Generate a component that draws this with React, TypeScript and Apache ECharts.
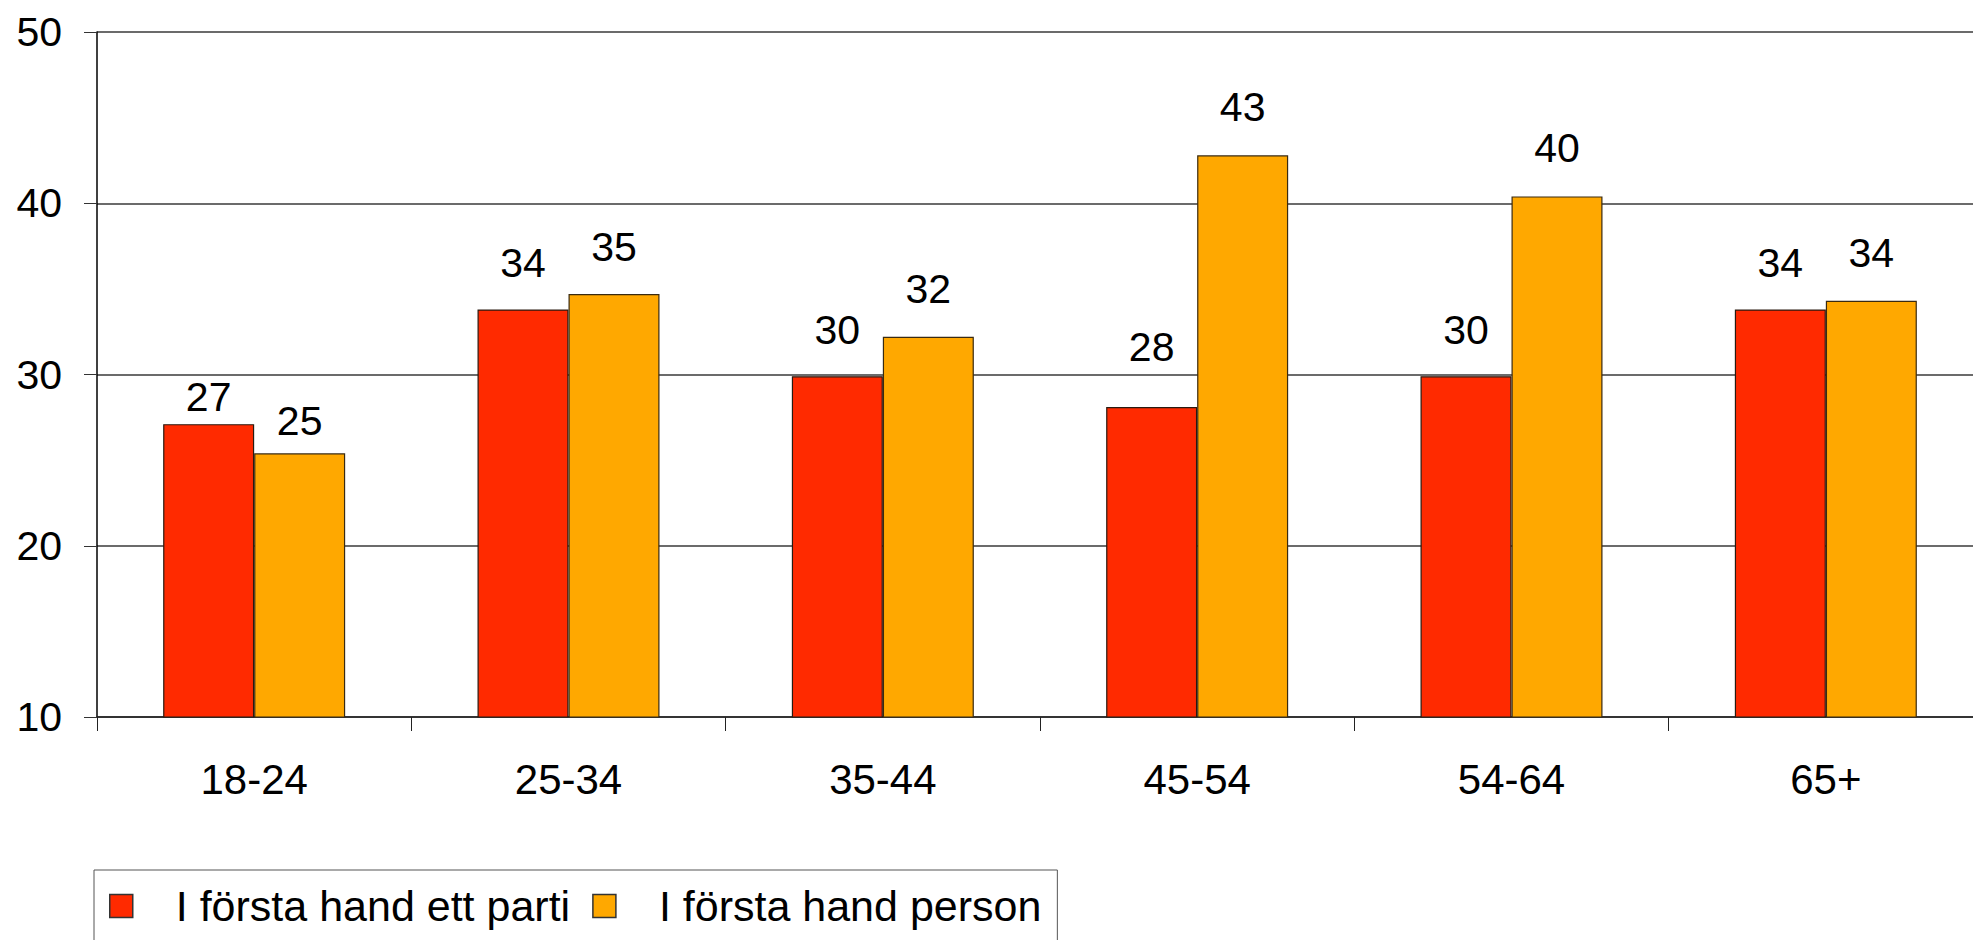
import React, { useEffect, useRef } from "react";
import * as echarts from "echarts";

const categories = ["18-24", "25-34", "35-44", "45-54", "54-64", "65+"];
const seriesNames = ["I första hand ett parti", "I första hand person"];
const partiValues = [27.1, 33.8, 29.9, 28.1, 29.9, 33.8];
const personValues = [25.4, 34.7, 32.2, 42.8, 40.4, 34.3];
const yTicks = { min: 10, max: 50, interval: 10 };

// label gap above each bar (styling only)
const partiLabelGap = [7, 26, 26, 40, 26, 26];
const personLabelGap = [12, 27, 27, 28, 28, 27];

const FONT = '"Liberation Sans", Arial, sans-serif';

export default function App() {
  const ref = useRef<HTMLDivElement>(null);
  useEffect(() => {
    document.body.style.margin = "0";
    if (!ref.current) return;
    const chart = echarts.init(ref.current, null, { renderer: "svg" });
    const labelBase = {
      show: true,
      position: "top" as const,
      fontSize: 41,
      fontFamily: FONT,
      color: "#000",
      formatter: (p: any) => String(Math.round(p.value)),
    };
    const mk = (vals: number[], gaps: number[]) =>
      vals.map((v, i) => ({ value: v, label: { distance: gaps[i] } }));
    chart.setOption({
      animation: false,
      backgroundColor: "#fff",
      textStyle: { fontFamily: FONT },
      grid: { left: 97, top: 32, width: 1886, bottom: 223, containLabel: false },
      legend: {
        left: 94,
        top: 870,
        orient: "horizontal",
        icon: "rect",
        itemWidth: 23,
        itemHeight: 23,
        itemGap: 22,
        padding: [13, 16, 13, 15],
        borderColor: "#555",
        borderWidth: 1,
        backgroundColor: "#fff",
        textStyle: {
          fontSize: 43,
          fontFamily: FONT,
          color: "#000",
          padding: [0, 0, 0, 38],
          lineHeight: 46,
        },
        itemStyle: { borderColor: "#333", borderWidth: 1.5 },
        data: seriesNames,
      },
      xAxis: {
        type: "category",
        data: categories,
        boundaryGap: true,
        axisLine: { show: true, lineStyle: { color: "#222", width: 1.5 } },
        axisTick: { show: true, length: 14, inside: false, lineStyle: { color: "#222" } },
        axisLabel: { fontSize: 42, fontFamily: FONT, color: "#000", margin: 41 },
        splitLine: { show: false },
      },
      yAxis: {
        type: "value",
        min: yTicks.min,
        max: yTicks.max,
        interval: yTicks.interval,
        axisLine: { show: true, lineStyle: { color: "#000", width: 1.5 } },
        axisTick: { show: true, length: 13, inside: false, lineStyle: { color: "#333" } },
        axisLabel: { fontSize: 41, fontFamily: FONT, color: "#000", margin: 35 },
        splitLine: { show: true, lineStyle: { color: "#3a3a3a", width: 1.5 } },
      },
      series: [
        {
          name: seriesNames[0],
          type: "bar",
          data: mk(partiValues, partiLabelGap),
          barWidth: 91,
          barGap: "0%",
          itemStyle: { color: "#FF2A00", borderColor: "#2a1a10", borderWidth: 1.2 },
          label: labelBase,
        },
        {
          name: seriesNames[1],
          type: "bar",
          data: mk(personValues, personLabelGap),
          barWidth: 91,
          barGap: "0%",
          itemStyle: { color: "#FFA800", borderColor: "#3a2a10", borderWidth: 1.2 },
          label: labelBase,
        },
      ],
    });
    return () => chart.dispose();
  }, []);
  return (
    <div style={{ width: 1973, height: 940, overflow: "hidden", position: "relative" }}>
      <div ref={ref} style={{ width: 1995, height: 940 }} />
    </div>
  );
}
